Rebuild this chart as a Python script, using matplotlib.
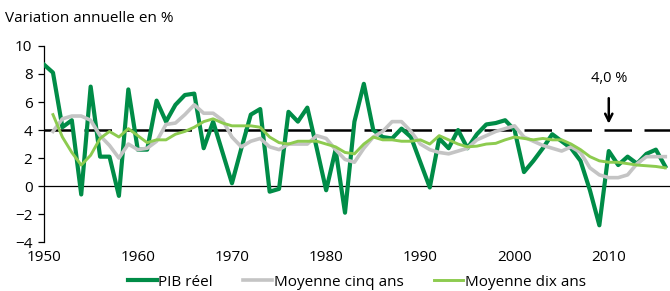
import matplotlib
matplotlib.use("Agg")
import matplotlib.pyplot as plt

plt.rcParams['font.family'] = ['Open Sans', 'DejaVu Sans']

years = list(range(1950, 2017))
years_avg = list(range(1951, 2017))

# PIB reel, variation annuelle en %
pib = [8.7, 8.1, 4.2, 4.7, -0.6, 7.1, 2.1, 2.1, -0.7, 6.9,
       2.6, 2.6, 6.1, 4.6, 5.8, 6.5, 6.6, 2.7, 4.6, 2.4,
       0.2, 2.7, 5.1, 5.5, -0.4, -0.2, 5.3, 4.6, 5.6, 2.7,
       -0.3, 2.6, -1.9, 4.6, 7.3, 4.0, 3.5, 3.4, 4.1, 3.5,
       1.7, -0.1, 3.4, 2.7, 4.0, 2.7, 3.7, 4.4, 4.5, 4.7,
       4.0, 1.0, 1.8, 2.7, 3.7, 3.2, 2.7, 1.8, -0.3, -2.8,
       2.5, 1.5, 2.1, 1.6, 2.3, 2.6, 1.4]

moy5 = [3.9, 4.8, 5.0, 5.0, 4.7, 3.6, 2.9, 2.0, 3.0,
        2.6, 2.7, 3.2, 4.4, 4.5, 5.1, 5.8, 5.2, 5.2, 4.7,
        3.5, 2.8, 3.2, 3.4, 2.8, 2.6, 3.0, 3.0, 3.0, 3.6,
        3.4, 2.6, 1.9, 1.7, 2.7, 3.5, 3.9, 4.6, 4.6, 3.9,
        3.0, 2.6, 2.4, 2.3, 2.5, 2.7, 3.3, 3.6, 3.9, 4.1,
        4.3, 3.5, 3.2, 2.9, 2.7, 2.5, 2.8, 2.4, 1.3, 0.8,
        0.6, 0.6, 0.8, 1.6, 2.1, 2.1, 2.1]

moy10 = [5.1, 3.5, 2.4, 1.5, 2.2, 3.4, 3.9, 3.5, 4.1,
         3.6, 3.1, 3.3, 3.3, 3.7, 3.9, 4.2, 4.6, 4.8, 4.5,
         4.3, 4.3, 4.3, 4.2, 3.5, 3.1, 3.0, 3.2, 3.2, 3.2,
         3.0, 2.8, 2.4, 2.3, 3.0, 3.5, 3.3, 3.3, 3.2, 3.2,
         3.3, 3.0, 3.6, 3.3, 3.0, 2.8, 2.85, 3.0, 3.05, 3.3,
         3.5, 3.4, 3.3, 3.4, 3.3, 3.3, 3.0, 2.6, 2.1, 1.8,
         1.7, 1.7, 1.6, 1.5, 1.45, 1.4, 1.3]

cible = 4.0

fig = plt.figure(figsize=(6.7, 2.91), dpi=100)
ax = fig.add_axes([0.065, 0.168, 0.935, 0.674])

ax.axhline(0, color='black', lw=0.9, zorder=1)
ax.axhline(cible, color='black', lw=1.8, dashes=(11, 5), zorder=2)

ax.plot(years, pib, color='#008C47', lw=3.0, label='PIB réel', zorder=3)
ax.plot(years_avg, moy5, color='#C4C4C4', lw=2.6, label='Moyenne cinq ans', zorder=4)
ax.plot(years_avg, moy10, color='#8DCB4F', lw=2.1, label='Moyenne dix ans', zorder=5)

ax.annotate('4,0 %', xy=(2010, 4.45), xytext=(2010, 7.7),
            ha='center', va='center', fontsize=10.5,
            arrowprops=dict(arrowstyle='->', color='black', lw=1.8,
                            mutation_scale=13, shrinkA=7, shrinkB=0))

ax.set_xlim(1950, 2016.5)
ax.set_ylim(-4, 10)
ax.set_yticks(range(-4, 11, 2))
ax.set_xticks(range(1950, 2011, 10))
for s in ['top', 'right', 'bottom']:
    ax.spines[s].set_visible(False)
ax.spines['left'].set_linewidth(0.9)
ax.tick_params(axis='y', length=4, width=0.9, labelsize=11, pad=4)
ax.tick_params(axis='x', length=0, labelsize=11, pad=6)

fig.text(0.008, 0.935, 'Variation annuelle en %', fontsize=11, va='center', ha='left')

ax.legend(loc='upper center', bbox_to_anchor=(0.5, -0.135), ncol=3, frameon=False,
          fontsize=11, handlelength=1.9, handletextpad=0.1, columnspacing=2.0,
          borderaxespad=0)

fig.savefig('out.png', dpi=100)
